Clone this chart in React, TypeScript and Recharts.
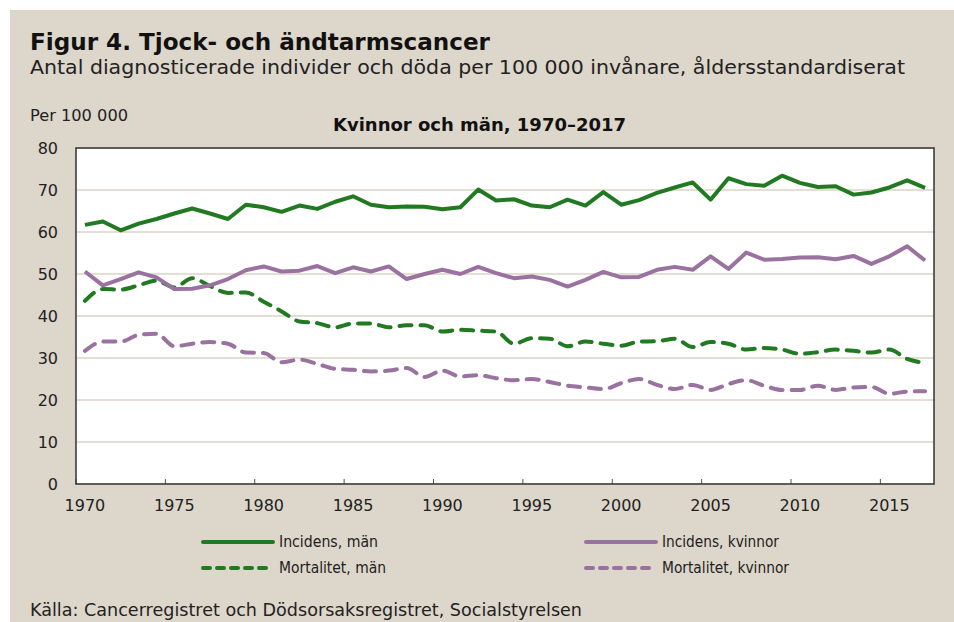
import React from 'react';
import { LineChart, Line, XAxis, YAxis, CartesianGrid } from 'recharts';

const years = [
  1970, 1971, 1972, 1973, 1974, 1975, 1976, 1977, 1978, 1979,
  1980, 1981, 1982, 1983, 1984, 1985, 1986, 1987, 1988, 1989,
  1990, 1991, 1992, 1993, 1994, 1995, 1996, 1997, 1998, 1999,
  2000, 2001, 2002, 2003, 2004, 2005, 2006, 2007, 2008, 2009,
  2010, 2011, 2012, 2013, 2014, 2015, 2016, 2017,
];

const incidensMan = [
  61.7, 62.5, 60.4, 62.0, 63.1, 64.4, 65.6, 64.4, 63.1, 66.5,
  65.9, 64.8, 66.3, 65.5, 67.2, 68.5, 66.5, 65.9, 66.1, 66.0,
  65.4, 65.9, 70.1, 67.5, 67.8, 66.3, 65.9, 67.7, 66.3, 69.5,
  66.5, 67.6, 69.3, 70.6, 71.8, 67.7, 72.8, 71.4, 71.0, 73.4,
  71.7, 70.7, 70.9, 68.9, 69.4, 70.6, 72.3, 70.5,
];

const incidensKvinnor = [
  50.6, 47.3, 48.8, 50.4, 49.2, 46.4, 46.5, 47.3, 48.8, 50.9,
  51.8, 50.6, 50.8, 51.9, 50.2, 51.6, 50.6, 51.8, 48.8, 50.0,
  51.0, 50.0, 51.7, 50.2, 49.0, 49.4, 48.6, 47.0, 48.6, 50.5,
  49.2, 49.3, 51.0, 51.7, 51.0, 54.2, 51.2, 55.1, 53.4, 53.6,
  53.9, 54.0, 53.5, 54.3, 52.4, 54.2, 56.6, 53.2,
];

const mortalitetMan = [
  43.6, 46.4, 46.3, 47.3, 48.4, 46.8, 49.0, 47.1, 45.5, 45.6,
  43.4, 41.1, 38.7, 38.3, 37.3, 38.2, 38.2, 37.3, 37.8, 37.8,
  36.3, 36.7, 36.5, 36.3, 33.4, 34.7, 34.6, 32.8, 33.9, 33.4,
  32.9, 33.9, 34.0, 34.6, 32.6, 33.8, 33.4, 32.0, 32.4, 32.0,
  31.0, 31.4, 32.0, 31.7, 31.3, 32.0, 29.8, 28.8,
];

const mortalitetKvinnor = [
  31.7, 33.9, 33.9, 35.5, 35.8, 32.8, 33.4, 33.8, 33.4, 31.3,
  31.2, 29.0, 29.6, 28.6, 27.4, 27.2, 26.8, 27.0, 27.6, 25.5,
  27.0, 25.6, 25.9, 25.2, 24.7, 25.0, 24.3, 23.4, 23.0, 22.6,
  24.0, 25.0, 23.6, 22.6, 23.6, 22.4, 23.8, 24.7, 23.4, 22.4,
  22.4, 23.4, 22.4, 23.0, 23.1, 21.5, 22.0, 22.1,
];

const yTicks = [0, 10, 20, 30, 40, 50, 60, 70, 80];

const data = years.map((year, i) => ({
  year,
  incMan: incidensMan[i],
  incKv: incidensKvinnor[i],
  mortMan: mortalitetMan[i],
  mortKv: mortalitetKvinnor[i],
}));

const GREEN = '#217a21';
const PURPLE = '#9a72a0';
const BG = '#ddd6ca';
const FONT = '"DejaVu Sans", sans-serif';

const W = 944;
const H = 612;
const M = { top: 138, right: 20, bottom: 98, left: 0 };
const Y_W = 66;

const XTick = (props: any) => {
  const { x, y, payload } = props;
  const half = payload && payload.offset ? payload.offset : 0;
  return (
    <g>
      <line x1={x - half} x2={x - half} y1={y} y2={y - 5} stroke="#555" strokeWidth={1} />
      <text x={x} y={y + 27} textAnchor="middle" fontFamily={FONT} fontSize={16} fill="#222">
        {payload.value}
      </text>
    </g>
  );
};

const LegendItem = ({ x, y, color, dashed, label, len }: any) => (
  <g>
    <line
      x1={x}
      x2={x + 70}
      y1={y}
      y2={y}
      stroke={color}
      strokeWidth={4}
      strokeLinecap="round"
      strokeDasharray={dashed ? '7 7' : undefined}
    />
    <text x={x + 76} y={y + 5} fontFamily={FONT} fontSize={15} fill="#222" textLength={len} lengthAdjust="spacingAndGlyphs">
      {label}
    </text>
  </g>
);

export default function App() {
  const plotW = W - Y_W - M.right;
  const plotH = H - M.top - M.bottom - 40;
  return (
    <>
      <style>{'body{margin:0;overflow:hidden;}'}</style>
      <div style={{ position: 'relative', width: W, height: H, marginLeft: 10, marginTop: 10, background: BG }}>
        <LineChart width={W} height={H} data={data} margin={M}>
          <CartesianGrid vertical={false} stroke="#dcd3c4" strokeWidth={1.3} fill="#ffffff" fillOpacity={1} />
          <XAxis
            dataKey="year"
            scale="band"
            interval={4}
            height={40}
            axisLine={false}
            tickLine={false}
            tickSize={0}
            tickMargin={0}
            tick={<XTick />}
          />
          <YAxis
            width={Y_W}
            domain={[0, 80]}
            ticks={yTicks}
            axisLine={false}
            tickLine={false}
            tickSize={0}
            tickMargin={18}
            tick={{ fontFamily: FONT, fontSize: 16, fill: '#222' }}
          />
          <Line dataKey="mortKv" type="monotone" stroke={PURPLE} strokeWidth={4} strokeDasharray="12 9" strokeLinecap="round" dot={false} isAnimationActive={false} />
          <Line dataKey="mortMan" type="monotone" stroke={GREEN} strokeWidth={4} strokeDasharray="12 9" strokeLinecap="round" dot={false} isAnimationActive={false} />
          <Line dataKey="incKv" type="linear" stroke={PURPLE} strokeWidth={4} strokeLinejoin="round" dot={false} isAnimationActive={false} />
          <Line dataKey="incMan" type="linear" stroke={GREEN} strokeWidth={4} strokeLinejoin="round" dot={false} isAnimationActive={false} />
        </LineChart>
        <svg width={W} height={H} style={{ position: 'absolute', left: 0, top: 0, pointerEvents: 'none' }}>
          <rect x={Y_W} y={M.top} width={plotW} height={plotH} fill="none" stroke="#333" strokeWidth={1.5} />
          <text x={20} y={40} fontFamily={FONT} fontWeight="bold" fontSize={23} fill="#111" textLength={460} lengthAdjust="spacingAndGlyphs">
            Figur 4. Tjock- och ändtarmscancer
          </text>
          <text x={20} y={64} fontFamily={FONT} fontSize={19} fill="#222" textLength={875} lengthAdjust="spacingAndGlyphs">
            Antal diagnosticerade individer och döda per 100 000 invånare, åldersstandardiserat
          </text>
          <text x={20} y={111} fontFamily={FONT} fontSize={16} fill="#222" textLength={98} lengthAdjust="spacingAndGlyphs">
            Per 100 000
          </text>
          <text x={323} y={121} fontFamily={FONT} fontWeight="bold" fontSize={18} fill="#111" textLength={293} lengthAdjust="spacingAndGlyphs">
            Kvinnor och män, 1970–2017
          </text>
          <LegendItem x={193} y={532} color={GREEN} label="Incidens, män" len={99} />
          <LegendItem x={193} y={558} color={GREEN} dashed label="Mortalitet, män" len={107} />
          <LegendItem x={576} y={532} color={PURPLE} label="Incidens, kvinnor" len={117} />
          <LegendItem x={576} y={558} color={PURPLE} dashed label="Mortalitet, kvinnor" len={127} />
          <text x={20} y={606} fontFamily={FONT} fontSize={17} fill="#222" textLength={552} lengthAdjust="spacingAndGlyphs">
            Källa: Cancerregistret och Dödsorsaksregistret, Socialstyrelsen
          </text>
        </svg>
      </div>
    </>
  );
}
